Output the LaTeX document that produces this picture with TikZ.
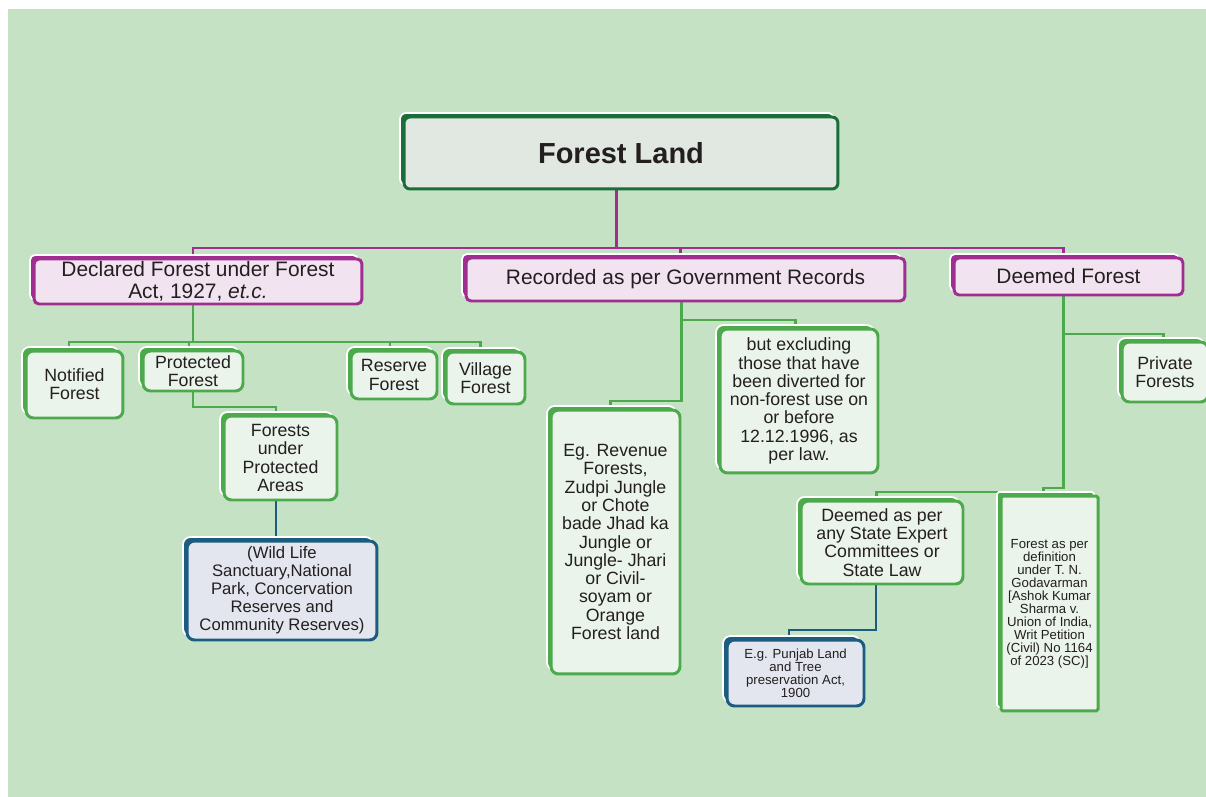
\documentclass[tikz,border=0pt]{standalone}
\usepackage{fontspec}
\setmainfont{Liberation Sans}
\usepackage{tikz}
\usetikzlibrary{shadows, backgrounds}
\definecolor{Meadow}{RGB}{197, 226, 197}
\definecolor{PineGreen}{RGB}{26, 110, 58}
\definecolor{MistGreen}{RGB}{225, 231, 225}
\definecolor{Plum}{RGB}{160, 46, 145}
\definecolor{Blush}{RGB}{241, 228, 240}
\definecolor{LeafGreen}{RGB}{76, 170, 76}
\definecolor{PaleGreen}{RGB}{234, 244, 234}
\definecolor{SlateBlue}{RGB}{28, 92, 128}
\definecolor{Haze}{RGB}{227, 230, 238}
\definecolor{InkGray}{RGB}{35, 31, 32}

\begin{document}
\begin{tikzpicture}[x=0.02cm, y=-0.02cm,
  bx/.style={rounded corners=0.15cm, inner sep=0pt, align=center,
             text=InkGray, line width=1.7pt},
  topbx/.style={bx, draw=PineGreen, fill=MistGreen, rounded corners=0.12cm,
                copy shadow={shadow xshift=-0.08cm, shadow yshift=0.08cm,
                             fill=PineGreen, draw=white, line width=1pt}},
  hdbx/.style={bx, draw=Plum, fill=Blush, rounded corners=0.1cm,
               copy shadow={shadow xshift=-0.08cm, shadow yshift=0.08cm,
                            fill=Plum, draw=white, line width=1pt}},
  gbx/.style={bx, draw=LeafGreen, fill=PaleGreen,
              copy shadow={shadow xshift=-0.08cm, shadow yshift=0.08cm,
                           fill=LeafGreen, draw=white, line width=1pt}},
  bbx/.style={bx, draw=SlateBlue, fill=Haze,
              copy shadow={shadow xshift=-0.08cm, shadow yshift=0.08cm,
                           fill=SlateBlue, draw=white, line width=1pt}},
  pline/.style={draw=Plum, line width=1.7pt},
  gline/.style={draw=LeafGreen, line width=1.7pt},
  bline/.style={draw=SlateBlue, line width=1.6pt},
  ttl/.style={font=\fontsize{16.5}{18}\selectfont\bfseries},
  hdr/.style={font=\fontsize{11.9}{12.5}\selectfont},
  txt/.style={font=\fontsize{10.1}{10.4}\selectfont},
  wld/.style={font=\fontsize{9.5}{10.2}\selectfont},
  sml/.style={font=\fontsize{7.5}{7.4}\selectfont}
]
  \useasboundingbox (0,0) rectangle (1206,797);

  % top
  \node[topbx, ttl, minimum width=8.68cm, minimum height=1.44cm] (fl) at (621,153) {Forest Land};

  % three kinds
  \node[hdbx, hdr, minimum width=6.56cm, minimum height=0.90cm] (dec) at (198,281.5)
    {Declared Forest under Forest\\Act, 1927, \textit{et.c.}};
  \node[hdbx, hdr, minimum width=8.78cm, minimum height=0.86cm] (rec) at (685.5,279.5)
    {Recorded as per Government Records};
  \node[hdbx, hdr, minimum width=4.58cm, minimum height=0.74cm] (dfor) at (1068.5,276.5)
    {Deemed Forest};

  % declared
  \node[gbx, txt, minimum width=1.94cm, minimum height=1.34cm] (nf) at (74.5,384.5) {Notified\\Forest};
  \node[gbx, txt, minimum width=2.00cm, minimum height=0.80cm] (pf) at (193,371) {Protected\\Forest};
  \node[gbx, txt, minimum width=1.72cm, minimum height=0.96cm] (rf) at (394,375) {Reserve\\Forest};
  \node[gbx, txt, minimum width=1.58cm, minimum height=1.04cm] (vf) at (485.5,378) {Village\\Forest};
  \node[gbx, txt, minimum width=2.26cm, minimum height=1.68cm] (pa) at (280.5,458)
    {Forests\\under\\Protected\\Areas};
  \node[bbx, wld, minimum width=3.80cm, minimum height=1.98cm] (wl) at (282,590.5)
    {(Wild Life\\Sanctuary,National\\Park, Concervation\\Reserves and\\Community Reserves)};

  % recorded
  \node[gbx, txt, minimum width=2.58cm, minimum height=5.28cm] (eg) at (615.5,542)
    {Eg. Revenue\\Forests,\\Zudpi Jungle\\or Chote\\bade Jhad ka\\Jungle or\\Jungle- Jhari\\or Civil-\\soyam or\\Orange\\Forest land};
  \node[gbx, txt, minimum width=3.16cm, minimum height=2.88cm] (excl) at (799,401)
    {but excluding\\those that have\\been diverted for\\non-forest use on\\or before\\12.12.1996, as\\per law.};

  % deemed
  \node[gbx, txt, minimum width=1.72cm, minimum height=1.20cm] (pv) at (1165,372) {Private\\Forests};
  \node[gbx, txt, minimum width=3.24cm, minimum height=1.66cm] (se) at (882,542.5)
    {Deemed as per\\any State Expert\\Committees or\\State Law};
  \node[gbx, sml, rounded corners=1pt, minimum width=1.94cm, minimum height=4.30cm] (tn) at (1049.5,603.5)
    {Forest as per\\definition\\under T. N.\\Godavarman\\{[}Ashok Kumar\\Sharma v.\\Union of India,\\Writ Petition\\(Civil) No 1164\\of 2023 (SC)]};
  \node[bbx, sml, minimum width=2.74cm, minimum height=1.32cm] (pj) at (795.5,673)
    {E.g. Punjab Land\\and Tree\\preservation Act,\\1900};

  \begin{scope}[on background layer]
    \fill[Meadow] (8,9) rectangle (1206,797);

    \coordinate (bus) at (616,248);
    \coordinate (jd) at (193,248);
    \coordinate (jr) at (680,248);
    \coordinate (jf) at (1063,248);
    \draw[pline] (fl.south -| bus) -- (bus);
    \draw[pline] (dec.north -| jd) -- (jd) -- (jf) -- (dfor.north -| jf);
    \draw[pline] (jr) -- (rec.north -| jr);

    \coordinate (kd) at (193,342);
    \coordinate (kn) at (69,342);
    \coordinate (kp) at (189,342);
    \coordinate (kr) at (390,342);
    \coordinate (kv) at (480,342);
    \coordinate (kpa) at (276,407);
    \draw[gline] (dec.south -| kd) -- (kd);
    \draw[gline] (nf.north -| kn) -- (kn) -- (kv) -- (vf.north -| kv);
    \draw[gline] (kp) -- (pf.north -| kp);
    \draw[gline] (kr) -- (rf.north -| kr);
    \draw[gline] (pf.south) |- (kpa) -- (pa.north -| kpa);
    \draw[bline] (pa.south -| kpa) -- (wl.north -| kpa);

    \coordinate (ra) at (681,320);
    \coordinate (rb) at (795,320);
    \coordinate (rc) at (681,401);
    \coordinate (rd) at (610,401);
    \draw[gline] (rec.south -| ra) -- (rc) -- (rd) -- (eg.north -| rd);
    \draw[gline] (ra) -- (rb) -- (excl.north -| rb);

    \coordinate (da) at (1063,334);
    \coordinate (db) at (1163,334);
    \coordinate (dc) at (1063,488);
    \coordinate (dd) at (1043,488);
    \coordinate (de) at (876,492);
    \coordinate (df) at (1043,492);
    \coordinate (dg) at (876,630);
    \coordinate (dh) at (789,630);
    \draw[gline] (dfor.south -| da) -- (dc) -- (dd) -- (tn.north -| dd);
    \draw[gline] (da) -- (db) -- (pv.north -| db);
    \draw[gline] (df) -- (de) -- (se.north -| de);
    \draw[bline] (se.south -| dg) -- (dg) -- (dh) -- (pj.north -| dh);
  \end{scope}
\end{tikzpicture}
\end{document}
